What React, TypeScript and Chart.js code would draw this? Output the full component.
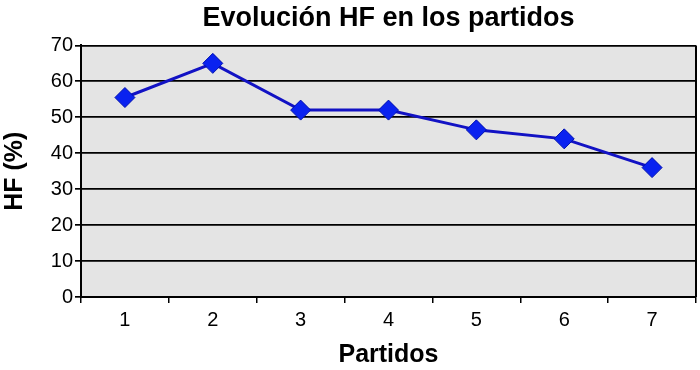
import React, { useEffect, useRef } from "react";
import { Chart, registerables } from "chart.js";

Chart.register(...registerables);

const categories = ["1", "2", "3", "4", "5", "6", "7"];
const hfValues = [55.5, 65, 52, 52, 46.5, 44, 36];
const chartTitle = "Evolución HF en los partidos";
const xTitle = "Partidos";
const yTitle = "HF (%)";

const FONT = "'Liberation Sans', Arial, Helvetica, sans-serif";

const plotBg = {
  id: "plotBg",
  beforeDraw(chart: any) {
    const { ctx, chartArea } = chart;
    ctx.save();
    ctx.fillStyle = "#E4E4E4";
    ctx.fillRect(chartArea.left, chartArea.top, chartArea.right - chartArea.left, chartArea.bottom - chartArea.top);
    ctx.restore();
  },
  afterDatasetsDraw(chart: any) {
    const { ctx, chartArea } = chart;
    ctx.save();
    ctx.strokeStyle = "#000";
    ctx.lineWidth = 2;
    ctx.beginPath();
    ctx.moveTo(chartArea.right, chartArea.top);
    ctx.lineTo(chartArea.right, chartArea.bottom);
    ctx.stroke();
    ctx.restore();
  },
};

export default function App() {
  const ref = useRef<HTMLCanvasElement | null>(null);
  useEffect(() => {
    document.body.style.margin = "0";
    const chart = new Chart(ref.current as HTMLCanvasElement, {
      type: "line",
      data: {
        labels: categories,
        datasets: [
          {
            data: hfValues,
            borderColor: "#1212C4",
            borderWidth: 3,
            pointStyle: "rectRot",
            pointRadius: 10,
            pointHoverRadius: 10,
            pointBackgroundColor: "#0A22F0",
            pointBorderColor: "#0010B0",
            pointBorderWidth: 1,
            tension: 0,
            fill: false,
          },
        ],
      },
      options: {
        animation: false,
        responsive: false,
        layout: { autoPadding: false, padding: { right: 4, left: 0, top: 0, bottom: 0 } },
        plugins: {
          legend: { display: false },
          tooltip: { enabled: false },
          title: {
            display: true,
            text: chartTitle,
            fullSize: false,
            color: "#000",
            font: { family: FONT, size: 27, weight: "bold" },
            padding: { top: 2, bottom: 11 },
          },
        },
        scales: {
          x: {
            type: "category",
            offset: true,
            afterFit: (s: any) => {
              s.height = 73;
              s.paddingLeft = 0;
              s.paddingRight = 0;
            },
            grid: {
              offset: true,
              drawOnChartArea: false,
              drawTicks: true,
              tickLength: 6,
              color: "#000",
              lineWidth: 1.5,
            },
            border: { color: "#000", width: 2 },
            ticks: {
              color: "#000",
              padding: 5,
              font: { family: FONT, size: 20 },
            },
            title: {
              display: true,
              text: xTitle,
              color: "#000",
              font: { family: FONT, size: 25, weight: "bold" },
              padding: { top: 0, bottom: 0 },
            },
          },
          y: {
            min: 0,
            max: 70,
            afterFit: (s: any) => {
              s.width = 81;
            },
            ticks: {
              stepSize: 10,
              color: "#000",
              padding: 2,
              font: { family: FONT, size: 20 },
            },
            grid: {
              color: "#000",
              lineWidth: 1.7,
              tickLength: 6,
            },
            border: { color: "#000", width: 2 },
            title: {
              display: true,
              text: yTitle,
              color: "#000",
              font: { family: FONT, size: 25, weight: "bold" },
              padding: { top: 0, bottom: 0 },
            },
          },
        },
      },
      plugins: [plotBg],
    });
    return () => chart.destroy();
  }, []);
  return (
    <div style={{ width: 700, height: 370, background: "#fff" }}>
      <canvas ref={ref} width={700} height={370} style={{ display: "block" }} />
    </div>
  );
}
